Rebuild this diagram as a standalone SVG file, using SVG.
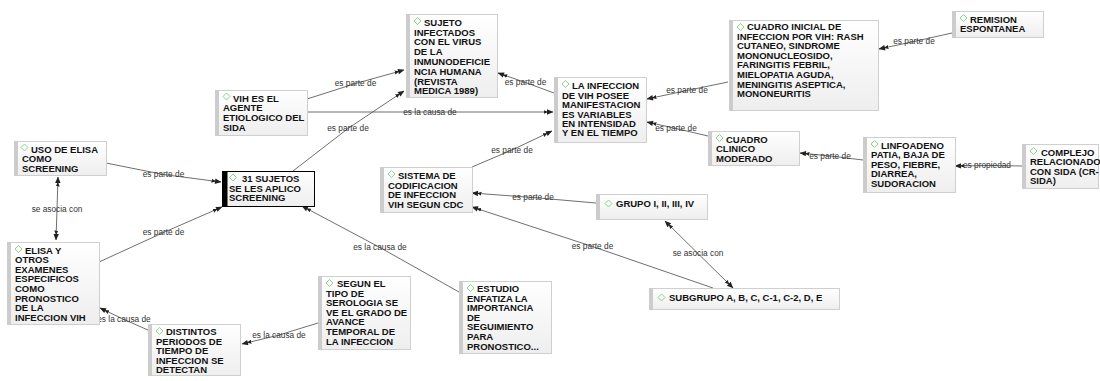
<svg xmlns="http://www.w3.org/2000/svg" width="1100" height="381" viewBox="0 0 1100 381">
  <style>
    .box { fill: url(#nodeFill); stroke: #cfcfcf; stroke-width: 1; }
    .bar { fill: #cccccc; }
    .sel .box { stroke: #000; }
    .sel .bar { fill: #000; }
    .dia { fill: none; stroke: #8fd18f; stroke-width: 1; }
    .nt { font-family: "Liberation Sans", Arial, sans-serif; font-size: 9.5px; font-weight: bold; fill: #111; }
    .link { fill: none; stroke: #4a4a4a; stroke-width: 0.8; marker-end: url(#arrow); }
    .both { marker-start: url(#arrow); }
    .lbl { font-family: "Liberation Sans", Arial, sans-serif; font-size: 8.3px; fill: #333; text-anchor: middle; }
  </style>
  <defs>
    <linearGradient id="nodeFill" x1="0" y1="0" x2="0" y2="1">
      <stop offset="0" stop-color="#ffffff"/>
      <stop offset="1" stop-color="#eeeeee"/>
    </linearGradient>
    <marker id="arrow" markerUnits="userSpaceOnUse" markerWidth="10" markerHeight="6" refX="9.5" refY="3" orient="auto-start-reverse" viewBox="0 0 10 6">
      <path d="M0,1 L4.5,3 L0,5 Z M3.5,0.3 L10,3 L3.5,5.7 Z" fill="#222"/>
    </marker>
  </defs>

  <rect width="1100" height="381" fill="#ffffff"/>

  <!-- connectors: source -> label -> target -->
  <g id="connectors">
    <polyline class="link" points="106,163 163.5,174.5 221,182"/>
    <polyline class="link both" points="58,177 57,209 56,240"/>
    <polyline class="link" points="99,262 163.5,232.5 222,207"/>
    <polyline class="link" points="293,171 348,128.5 404,91"/>
    <polyline class="link" points="307,99 355.5,83.5 404,70"/>
    <polyline class="link" points="307,112 430,112 553,112"/>
    <polyline class="link" points="554,93 525.5,82.5 498,73"/>
    <polyline class="link" points="472,167 512,150 552,131"/>
    <polyline class="link" points="728,82 687,90.5 647,99"/>
    <polyline class="link" points="708,136 676,128.5 647,122"/>
    <polyline class="link" points="952,33 914,41.5 879,49"/>
    <polyline class="link" points="863,160 830,156 800,153"/>
    <polyline class="link" points="1022,166 987,165.5 955,166"/>
    <polyline class="link" points="596,203 533,197.5 472,193"/>
    <polyline class="link" points="713,288 592.5,246.5 472,207"/>
    <polyline class="link both" points="665,221 698,253.5 733,288"/>
    <polyline class="link" points="459,292 380,247.5 302,206"/>
    <polyline class="link" points="148,330 124,319.5 100,308"/>
    <polyline class="link" points="318,323 279,335 242,344"/>

    <text class="lbl" x="163.5" y="177">es parte de</text>
    <text class="lbl" x="57" y="211.5">se asocia con</text>
    <text class="lbl" x="163.5" y="235">es parte de</text>
    <text class="lbl" x="348" y="131">es parte de</text>
    <text class="lbl" x="355.5" y="86">es parte de</text>
    <text class="lbl" x="430" y="114.5">es la causa de</text>
    <text class="lbl" x="525.5" y="85">es parte de</text>
    <text class="lbl" x="512" y="152.5">es parte de</text>
    <text class="lbl" x="687" y="93">es parte de</text>
    <text class="lbl" x="676" y="131">es parte de</text>
    <text class="lbl" x="914" y="44">es parte de</text>
    <text class="lbl" x="830" y="158.5">es parte de</text>
    <text class="lbl" x="987" y="168">es propiedad</text>
    <text class="lbl" x="533" y="200">es parte de</text>
    <text class="lbl" x="592.5" y="249">es parte de</text>
    <text class="lbl" x="698" y="256">se asocia con</text>
    <text class="lbl" x="380" y="250">es la causa de</text>
    <text class="lbl" x="124" y="322">es la causa de</text>
    <text class="lbl" x="279" y="337.5">es la causa de</text>
  </g>

  <!-- concepts -->
  <g id="uso-elisa">
    <rect class="box" x="14.5" y="141.5" width="92" height="34"/>
    <rect class="bar" x="14" y="141" width="4" height="35"/>
    <path class="dia" d="M24.5,144 L28,147.5 L24.5,151 L21,147.5 Z"/>
    <text class="nt"><tspan x="31" y="152.5">USO DE ELISA</tspan><tspan x="22" y="162.1">COMO</tspan><tspan x="22" y="171.7">SCREENING</tspan></text>
  </g>

  <g id="sujetos-31" class="sel">
    <rect class="box" x="222.5" y="171.5" width="92" height="35"/>
    <rect class="bar" x="222" y="171" width="5.5" height="36"/>
    <path class="dia" d="M233,174 L236.5,177.5 L233,181 L229.5,177.5 Z"/>
    <text class="nt"><tspan x="242" y="182">31 SUJETOS</tspan><tspan x="229" y="191.6">SE LES APLICO</tspan><tspan x="229" y="201.2">SCREENING</tspan></text>
  </g>

  <g id="vih-agente">
    <rect class="box" x="215.5" y="90.5" width="92" height="45"/>
    <rect class="bar" x="215" y="90" width="4" height="46"/>
    <path class="dia" d="M226.5,93 L230,96.5 L226.5,100 L223,96.5 Z"/>
    <text class="nt"><tspan x="233" y="101.7">VIH ES EL</tspan><tspan x="223" y="111.3">AGENTE</tspan><tspan x="223" y="120.9">ETIOLOGICO DEL</tspan><tspan x="223" y="130.5">SIDA</tspan></text>
  </g>

  <g id="sujeto-infectados">
    <rect class="box" x="406.5" y="14.5" width="91" height="83"/>
    <rect class="bar" x="406" y="14" width="4" height="84"/>
    <path class="dia" d="M417.5,17.5 L421,21 L417.5,24.5 L414,21 Z"/>
    <text class="nt"><tspan x="424" y="25.7">SUJETO</tspan><tspan x="414" y="35.5">INFECTADOS</tspan><tspan x="414" y="45.3">CON EL VIRUS</tspan><tspan x="414" y="55.1">DE LA</tspan><tspan x="414" y="64.9">INMUNODEFICIE</tspan><tspan x="414" y="74.7">NCIA HUMANA</tspan><tspan x="414" y="84.5">(REVISTA</tspan><tspan x="414" y="94.3">MEDICA 1989)</tspan></text>
  </g>

  <g id="infeccion-vih">
    <rect class="box" x="554.5" y="77.5" width="92" height="65"/>
    <rect class="bar" x="554" y="77" width="4" height="66"/>
    <path class="dia" d="M565.5,80.5 L569,84 L565.5,87.5 L562,84 Z"/>
    <text class="nt"><tspan x="572" y="89.3">LA INFECCION</tspan><tspan x="562" y="98.7">DE VIH POSEE</tspan><tspan x="562" y="108.1">MANIFESTACION</tspan><tspan x="562" y="117.5">ES VARIABLES</tspan><tspan x="562" y="126.9">EN INTENSIDAD</tspan><tspan x="562" y="136.3">Y EN EL TIEMPO</tspan></text>
  </g>

  <g id="cuadro-inicial">
    <rect class="box" x="729.5" y="20.5" width="149" height="90"/>
    <rect class="bar" x="729" y="20" width="4" height="91"/>
    <path class="dia" d="M740.5,23.5 L744,27 L740.5,30.5 L737,27 Z"/>
    <text class="nt"><tspan x="747" y="30">CUADRO INICIAL DE</tspan><tspan x="737" y="39.6">INFECCION POR VIH: RASH</tspan><tspan x="737" y="49.2">CUTANEO, SINDROME</tspan><tspan x="737" y="58.8">MONONUCLEOSIDO,</tspan><tspan x="737" y="68.4">FARINGITIS FEBRIL,</tspan><tspan x="737" y="78">MIELOPATIA AGUDA,</tspan><tspan x="737" y="87.6">MENINGITIS ASEPTICA,</tspan><tspan x="737" y="97.2">MONONEURITIS</tspan></text>
  </g>

  <g id="cuadro-clinico">
    <rect class="box" x="708.5" y="131.5" width="91" height="34"/>
    <rect class="bar" x="708" y="131" width="4" height="35"/>
    <path class="dia" d="M719.5,134.5 L723,138 L719.5,141.5 L716,138 Z"/>
    <text class="nt"><tspan x="726" y="142.5">CUADRO</tspan><tspan x="716" y="152.1">CLINICO</tspan><tspan x="716" y="161.7">MODERADO</tspan></text>
  </g>

  <g id="remision">
    <rect class="box" x="952.5" y="11.5" width="91" height="26"/>
    <rect class="bar" x="952" y="11" width="4" height="27"/>
    <path class="dia" d="M963.5,14.5 L967,18 L963.5,21.5 L960,18 Z"/>
    <text class="nt"><tspan x="970" y="22.5">REMISION</tspan><tspan x="960" y="32.1">ESPONTANEA</tspan></text>
  </g>

  <g id="linfoadenopatia">
    <rect class="box" x="863.5" y="137.5" width="92" height="55"/>
    <rect class="bar" x="863" y="137" width="4" height="56"/>
    <path class="dia" d="M874.5,140.5 L878,144 L874.5,147.5 L871,144 Z"/>
    <text class="nt"><tspan x="881" y="148.5">LINFOADENO</tspan><tspan x="871" y="158.1">PATIA, BAJA DE</tspan><tspan x="871" y="167.7">PESO, FIEBRE,</tspan><tspan x="871" y="177.3">DIARREA,</tspan><tspan x="871" y="186.9">SUDORACION</tspan></text>
  </g>

  <g id="complejo-crsida">
    <rect class="box" x="1022.5" y="144.5" width="76" height="44"/>
    <rect class="bar" x="1022" y="144" width="4" height="45"/>
    <path class="dia" d="M1033.5,147.5 L1037,151 L1033.5,154.5 L1030,151 Z"/>
    <text class="nt"><tspan x="1041" y="155.5">COMPLEJO</tspan><tspan x="1030" y="165.1">RELACIONADO</tspan><tspan x="1030" y="174.7">CON SIDA (CR-</tspan><tspan x="1030" y="184.3">SIDA)</tspan></text>
  </g>

  <g id="sistema-cdc">
    <rect class="box" x="380.5" y="167.5" width="92" height="45"/>
    <rect class="bar" x="380" y="167" width="4" height="46"/>
    <path class="dia" d="M391.5,170.5 L395,174 L391.5,177.5 L388,174 Z"/>
    <text class="nt"><tspan x="398" y="179">SISTEMA DE</tspan><tspan x="388" y="188.6">CODIFICACION</tspan><tspan x="388" y="198.2">DE INFECCION</tspan><tspan x="388" y="207.8">VIH SEGUN CDC</tspan></text>
  </g>

  <g id="grupo">
    <rect class="box" x="596.5" y="194.5" width="111" height="25"/>
    <rect class="bar" x="596" y="194" width="4" height="26"/>
    <path class="dia" d="M608.5,200 L612,203.5 L608.5,207 L605,203.5 Z"/>
    <text class="nt"><tspan x="616" y="206.7">GRUPO I, II, III, IV</tspan></text>
  </g>

  <g id="subgrupo">
    <rect class="box" x="649.5" y="288.5" width="190" height="21"/>
    <rect class="bar" x="649" y="288" width="4" height="22"/>
    <path class="dia" d="M661.5,294 L665,297.5 L661.5,301 L658,297.5 Z"/>
    <text class="nt"><tspan x="669" y="300.7">SUBGRUPO A, B, C, C-1, C-2, D, E</tspan></text>
  </g>

  <g id="estudio">
    <rect class="box" x="459.5" y="281.5" width="92" height="72"/>
    <rect class="bar" x="459" y="281" width="4" height="73"/>
    <path class="dia" d="M470.5,284.5 L474,288 L470.5,291.5 L467,288 Z"/>
    <text class="nt"><tspan x="477" y="292">ESTUDIO</tspan><tspan x="467" y="301.6">ENFATIZA LA</tspan><tspan x="467" y="311.2">IMPORTANCIA</tspan><tspan x="467" y="320.8">DE</tspan><tspan x="467" y="330.4">SEGUIMIENTO</tspan><tspan x="467" y="340">PARA</tspan><tspan x="467" y="349.6">PRONOSTICO...</tspan></text>
  </g>

  <g id="segun-serologia">
    <rect class="box" x="318.5" y="276.5" width="92" height="73"/>
    <rect class="bar" x="318" y="276" width="4" height="74"/>
    <path class="dia" d="M329.5,279.5 L333,283 L329.5,286.5 L326,283 Z"/>
    <text class="nt"><tspan x="337" y="287">SEGUN EL</tspan><tspan x="326" y="296.6">TIPO DE</tspan><tspan x="326" y="306.2">SEROLOGIA SE</tspan><tspan x="326" y="315.8">VE EL GRADO DE</tspan><tspan x="326" y="325.4">AVANCE</tspan><tspan x="326" y="335">TEMPORAL DE</tspan><tspan x="326" y="344.6">LA INFECCION</tspan></text>
  </g>

  <g id="elisa-otros">
    <rect class="box" x="7.5" y="242.5" width="92" height="82"/>
    <rect class="bar" x="7" y="242" width="4" height="83"/>
    <path class="dia" d="M18.5,245.5 L22,249 L18.5,252.5 L15,249 Z"/>
    <text class="nt"><tspan x="25" y="253.5">ELISA Y</tspan><tspan x="15" y="263.1">OTROS</tspan><tspan x="15" y="272.7">EXAMENES</tspan><tspan x="15" y="282.3">ESPECIFICOS</tspan><tspan x="15" y="291.9">COMO</tspan><tspan x="15" y="301.5">PRONOSTICO</tspan><tspan x="15" y="311.1">DE LA</tspan><tspan x="15" y="320.7">INFECCION VIH</tspan></text>
  </g>

  <g id="distintos-periodos">
    <rect class="box" x="148.5" y="324.5" width="92" height="51"/>
    <rect class="bar" x="148" y="324" width="4" height="52"/>
    <path class="dia" d="M159.5,327.5 L163,331 L159.5,334.5 L156,331 Z"/>
    <text class="nt"><tspan x="166" y="335">DISTINTOS</tspan><tspan x="156" y="344.6">PERIODOS DE</tspan><tspan x="156" y="354.2">TIEMPO DE</tspan><tspan x="156" y="363.8">INFECCION SE</tspan><tspan x="156" y="373.4">DETECTAN</tspan></text>
  </g>
</svg>
